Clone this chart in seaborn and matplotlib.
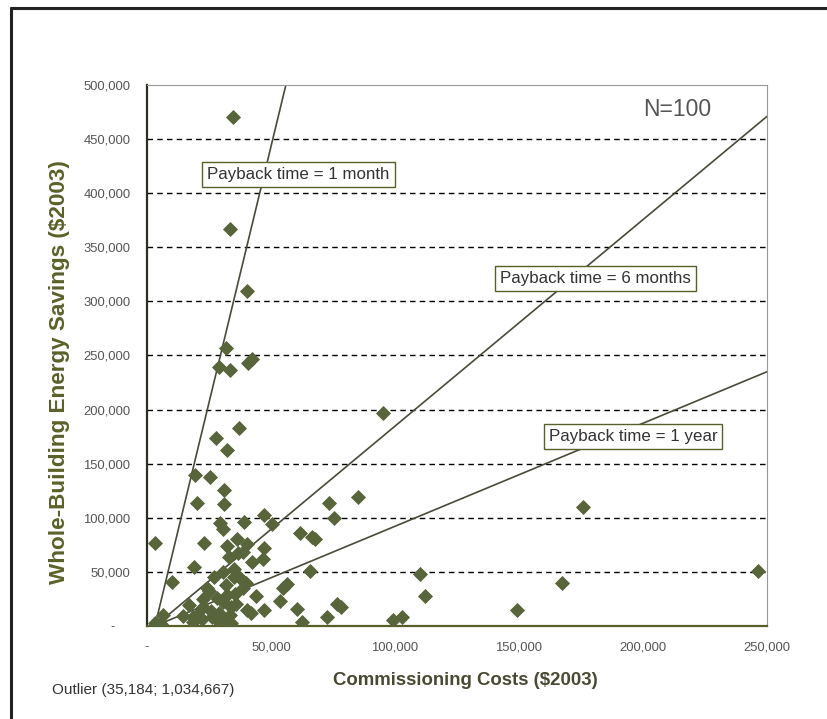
import numpy as np
import pandas as pd
import seaborn as sns
import matplotlib
matplotlib.use("Agg")
import matplotlib.pyplot as plt
from matplotlib import font_manager
from matplotlib.lines import Line2D
from matplotlib.ticker import FixedLocator, FuncFormatter

# commissioning cost vs whole-building savings, in $1000
cost_k = [34.7, 33.5, 40.3, 31.9, 29.2, 33.5, 40.8, 42.2, 95.0, 37.2,
          27.8, 32.4, 19.4, 25.4, 31.0, 20.3, 31.0, 47.3, 29.4, 30.8,
          39.1, 50.3, 61.7, 66.4, 67.7, 73.5, 85.2, 75.4, 176.0, 3.2,
          23.0, 32.1, 36.4, 40.4, 36.8, 47.2, 46.9, 42.2, 38.8, 19.1,
          30.5, 35.1, 35.1, 37.5, 10.2, 56.3, 55.0, 31.9, 38.8, 25.1,
          32.4, 28.1, 22.7, 30.8, 53.6, 17.1, 22.7, 33.8, 40.4, 47.2,
          60.4, 14.4, 18.7, 26.1, 30.1, 33.5, 22.0, 28.1, 6.6, 3.2,
          31.5, 18.7, 65.7, 110.0, 167.2, 246.5, 112.1, 76.5, 78.1, 149.0,
          72.7, 99.0, 103.0, 62.4, 4.5, 5.5, 3.8, 42.0, 36.0, 26.0,
          29.0, 24.0, 34.0, 20.0, 44.0, 35.5, 27.0, 40.0, 33.0]
savings_k = [470, 367, 310, 257, 239, 237, 243, 247, 197, 183,
             174, 163, 140, 138, 126, 114, 113, 103, 95, 90,
             96, 94, 86, 82.5, 80, 114, 119.5, 99.5, 110, 76.4,
             77, 74, 80.4, 75.8, 67.2, 71.8, 61.6, 59.4, 68.7, 54.2,
             50.2, 52.4, 45.6, 44.1, 40.4, 38.8, 34.8, 37.9, 34.8, 32.6,
             28.7, 25.6, 25.0, 22.5, 23.1, 19.4, 17.8, 17.3, 14.8, 14.8,
             15.4, 9.5, 8.6, 8.6, 7.1, 10.2, 6.2, 5.5, 10.2, 2.5,
             5.5, 4.0, 51.1, 48, 40, 51, 27.7, 20, 17.3, 14.8,
             8.6, 5.5, 8.6, 4.0, 0.5, 1.5, 1.0, 12, 20, 14,
             12, 35, 3, 10, 28, 30, 45, 40, 64]

# payback reference lines (start / end points, $)
payback_labels = ["Payback time = 1 month", "Payback time = 6 months", "Payback time = 1 year"]
payback_x0 = [3200, 3200, 3200]
payback_y0 = [0, 0, 0]
payback_x1 = [56000, 250000, 250000]
payback_y1 = [500000, 471000, 235000]

x_ticks = [0, 50000, 100000, 150000, 200000, 250000]
y_ticks = [0, 50000, 100000, 150000, 200000, 250000, 300000, 350000, 400000, 450000, 500000]

df = pd.DataFrame({"cost": np.array(cost_k) * 1000, "savings": np.array(savings_k) * 1000})

lines = pd.DataFrame({
    "label": payback_labels * 2,
    "x": payback_x0 + payback_x1,
    "y": payback_y0 + payback_y1,
})

sns.set_style("white")
names = {f.name for f in font_manager.fontManager.ttflist}
narrow = "Liberation Sans Narrow" in names
plt.rcParams["font.family"] = ["Liberation Sans Narrow", "Liberation Sans", "DejaVu Sans"] if narrow else ["Liberation Sans", "DejaVu Sans"]
scale = 1.0 if narrow else 0.85

olive = "#58643a"
fig = plt.figure(figsize=(8.28, 7.19), dpi=100)
ax = fig.add_axes([147 / 828, 1 - 626 / 719, 620 / 828, 541 / 719])

for yv in y_ticks[1:-1]:
    ax.axhline(yv, color="black", lw=1.0, ls=(0, (4, 3)), zorder=1)

sns.lineplot(data=lines, x="x", y="y", units="label", estimator=None,
             color="#4a4a3a", lw=1.2, ax=ax, zorder=2, legend=False)
sns.scatterplot(data=df, x="cost", y="savings", marker="D", s=50,
                color=olive, edgecolor=olive, linewidth=0.6, ax=ax, zorder=3)

ax.set_xlim(0, 250000)
ax.set_ylim(0, 500000)
ax.xaxis.set_major_locator(FixedLocator(x_ticks))
ax.yaxis.set_major_locator(FixedLocator(y_ticks))
ax.xaxis.set_major_formatter(FuncFormatter(lambda v, p: "-" if v == 0 else f"{int(v):,}"))
ax.yaxis.set_major_formatter(FuncFormatter(lambda v, p: "-    " if v == 0 else f"{int(v):,}"))
ax.tick_params(axis="both", labelsize=11 * scale, labelcolor="#555555",
               direction="inout", length=6, width=1.0, color="#333333", pad=8)
ax.tick_params(axis="y", pad=9)

for side in ["top", "right"]:
    ax.spines[side].set_color("#999999")
    ax.spines[side].set_linewidth(0.8)
ax.spines["left"].set_color("#2f2f20")
ax.spines["left"].set_linewidth(1.6)
ax.spines["bottom"].set_color("#5a5f2a")
ax.spines["bottom"].set_linewidth(1.6)

ax.set_xlabel("Commissioning Costs ($2003)", fontsize=13.4, fontweight="bold",
              color="#4a4a33")
ax.set_ylabel("Whole-Building Energy Savings ($2003)", fontsize=16.2, fontweight="bold",
              color="#5b6128")
ax.xaxis.set_label_coords(0.513, -0.085)
ax.yaxis.set_label_coords(-0.125, 0.47)

box = dict(boxstyle="square,pad=0.3", facecolor="white", edgecolor="#5a5f2a", lw=1.0)
label_pos = [(0.097, 0.835), (0.570, 0.642), (0.648, 0.350)]
for txt, (tx, ty) in zip(payback_labels, label_pos):
    ax.text(tx, ty, txt, transform=ax.transAxes, fontsize=12.2, color="#333333",
            va="center", ha="left", bbox=box, zorder=4)

ax.text(0.80, 0.955, "N=100", transform=ax.transAxes, fontsize=16.5,
        color="#555555", va="center", ha="left")
fig.text(52 / 828, 1 - 690 / 719, "Outlier (35,184; 1,034,667)", fontsize=11,
         color="#333333", va="center", ha="left")

# frame around the whole panel
fig.add_artist(Line2D([11 / 828, 11 / 828], [0, 1 - 8 / 719], transform=fig.transFigure,
                      color="#222222", lw=2.2))
fig.add_artist(Line2D([11 / 828, 1], [1 - 8 / 719, 1 - 8 / 719], transform=fig.transFigure,
                      color="#222222", lw=2.2))

fig.savefig("out.png", dpi=100)
